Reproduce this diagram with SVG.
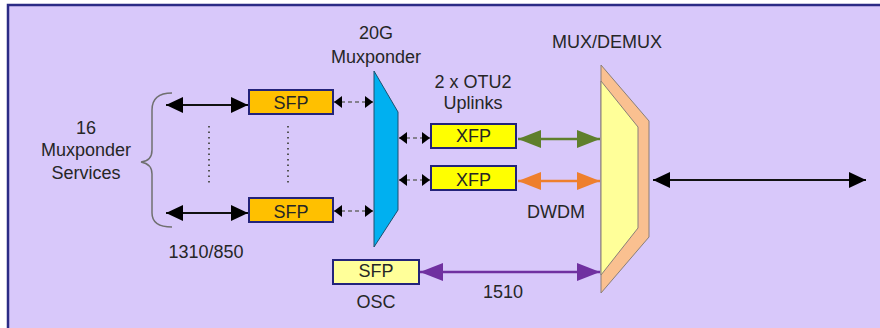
<svg xmlns="http://www.w3.org/2000/svg" width="880" height="328" viewBox="0 0 880 328">
<defs>
<style>
text{font-family:"Liberation Sans",Arial,sans-serif;font-size:18px;fill:#262626;text-anchor:middle}
.box{stroke:#23237a;stroke-width:2}
.sfp{fill:#FFC000}
.xfp{fill:#FFFF00}
.osc{fill:#FFFF99}
.blk{stroke:#111;stroke-width:2;fill:none;marker-start:url(#mb);marker-end:url(#mb)}
.dash{stroke:#6a6a6a;stroke-width:1.5;stroke-dasharray:4 3;fill:none;marker-start:url(#ms);marker-end:url(#ms)}
.dot{stroke:#555;stroke-width:2;stroke-dasharray:1.5 4;fill:none}
</style>
<marker id="mb" markerUnits="userSpaceOnUse" markerWidth="18" markerHeight="16" refX="17" refY="8" orient="auto-start-reverse"><path d="M0,0 L17,8 L0,16 z" fill="#000"/></marker>
<marker id="ms" markerUnits="userSpaceOnUse" markerWidth="9" markerHeight="12" refX="8" refY="6" orient="auto-start-reverse"><path d="M0,0 L8,6 L0,12 z" fill="#000"/></marker>
<marker id="mg" markerUnits="userSpaceOnUse" markerWidth="24" markerHeight="18" refX="23" refY="9" orient="auto-start-reverse"><path d="M0,0 L23,9 L0,18 z" fill="#5F7F2C"/></marker>
<marker id="mo" markerUnits="userSpaceOnUse" markerWidth="24" markerHeight="18" refX="23" refY="9" orient="auto-start-reverse"><path d="M0,0 L23,9 L0,18 z" fill="#EE7F2D"/></marker>
<marker id="mp" markerUnits="userSpaceOnUse" markerWidth="24" markerHeight="18" refX="23" refY="9" orient="auto-start-reverse"><path d="M0,0 L23,9 L0,18 z" fill="#7030A0"/></marker>
</defs>
<rect x="8" y="5" width="890" height="340" fill="#D8C8FA" stroke="#2b2b85" stroke-width="2.5"/>

<g id="labels">
<text x="86" y="134">16</text>
<text x="86" y="156">Muxponder</text>
<text x="86" y="179">Services</text>
<text x="206" y="258">1310/850</text>
<text x="376" y="39">20G</text>
<text x="376" y="63">Muxponder</text>
<text x="473" y="88">2 x OTU2</text>
<text x="473" y="109">Uplinks</text>
<text x="607" y="48">MUX/DEMUX</text>
<text x="556" y="218">DWDM</text>
<text x="503" y="298">1510</text>
</g>

<g id="brace"><path d="M172,93 Q152,93 152,110 L152,150 Q152,161 141,162 Q152,164 152,174 L152,213 Q152,227 172,227" fill="none" stroke="#707070" stroke-width="1.5"/></g>

<g id="muxponder"><path d="M374,71 L398,112 L398,210 L374,247 z" fill="#00B0F0" stroke="#1d4f6e" stroke-width="1"/></g>

<g id="muxdemux">
<path d="M601,65 L649,121 L649,237 L601,293 z" fill="#FAC090" stroke="#8a7f78" stroke-width="1"/>
<path d="M601,81 L638,127 L638,228 L601,275 z" fill="#FFFF99" stroke="#8a7f78" stroke-width="1"/>
</g>

<g id="sfp1"><rect class="box sfp" x="249" y="90" width="84" height="24"/><text x="291" y="109">SFP</text></g>
<g id="sfp2"><rect class="box sfp" x="249" y="198" width="84" height="24"/><text x="291" y="218">SFP</text></g>
<g id="xfp1"><rect class="box xfp" x="431" y="124" width="85" height="24"/><text x="473.5" y="142">XFP</text></g>
<g id="xfp2"><rect class="box xfp" x="431" y="166" width="85" height="24"/><text x="473.5" y="186">XFP</text></g>
<g id="osc"><rect class="box osc" x="333" y="260" width="86" height="24"/><text x="376" y="277">SFP</text><text x="376" y="308">OSC</text></g>

<g id="connectors">
<line class="blk" x1="166" y1="105" x2="248" y2="105"/>
<line class="blk" x1="166" y1="213" x2="248" y2="213"/>
<line class="dot" x1="209" y1="126" x2="209" y2="185"/>
<line class="dot" x1="288" y1="126" x2="288" y2="185"/>
<line class="dash" x1="334" y1="102" x2="373" y2="102"/>
<line class="dash" x1="334" y1="211" x2="373" y2="211"/>
<line class="dash" x1="399" y1="138" x2="430" y2="138"/>
<line class="dash" x1="399" y1="180" x2="430" y2="180"/>
<line x1="518" y1="139" x2="600" y2="139" stroke="#5F7F2C" stroke-width="2.5" marker-start="url(#mg)" marker-end="url(#mg)"/>
<line x1="518" y1="181" x2="600" y2="181" stroke="#EE7F2D" stroke-width="2.5" marker-start="url(#mo)" marker-end="url(#mo)"/>
<line x1="420" y1="272" x2="600" y2="272" stroke="#7030A0" stroke-width="2.5" marker-start="url(#mp)" marker-end="url(#mp)"/>
<line class="blk" x1="653" y1="180" x2="866" y2="180"/>
</g>
</svg>
